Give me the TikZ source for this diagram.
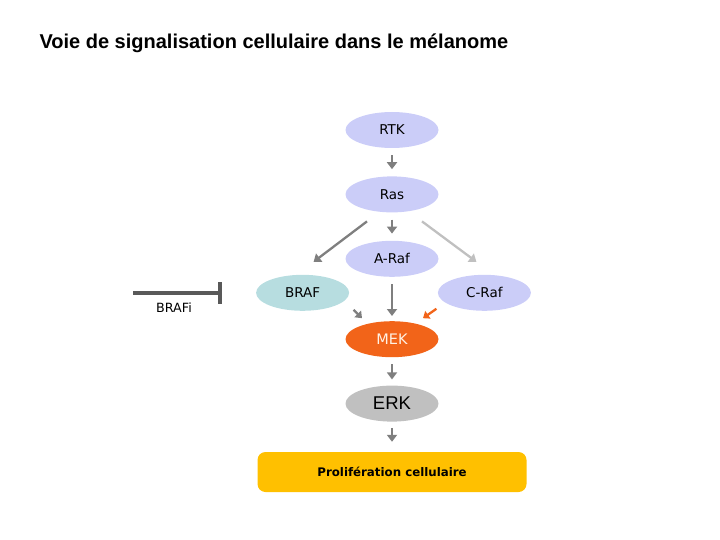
\documentclass[tikz,border=0pt]{standalone}
\usepackage{fontspec}
\setmainfont{DejaVu Sans}
\newfontfamily\arialfont{Liberation Sans}
\usepackage{xcolor}
\usetikzlibrary{shapes.geometric, arrows.meta, positioning}

\definecolor{lavender}{HTML}{CBCDF8}
\definecolor{brafteal}{HTML}{B7DDE0}
\definecolor{mekorange}{HTML}{F26419}
\definecolor{erkgray}{HTML}{C0C0C0}
\definecolor{prolifyellow}{HTML}{FFC000}
\definecolor{arrowgray}{HTML}{7F7F7F}

\begin{document}
\begin{tikzpicture}[
  x=1pt, y=-1pt,
  node distance=28pt,
  kinase/.style={ellipse, fill=lavender, inner sep=0pt, minimum width=93pt, minimum height=36pt, font=\fontsize{13.5}{16}\selectfont},
  arr/.style={draw=arrowgray, line width=2.3pt, -{Triangle[width=10pt, length=7pt]}},
  shortarr/.style={draw=arrowgray, line width=2.3pt, -{Triangle[width=9pt, length=6pt]}}
]
  \useasboundingbox (0,0) rectangle (720,540);

  \node[anchor=west, font=\arialfont\bfseries\fontsize{20}{24}\selectfont] (title) at (36,43) {Voie de signalisation cellulaire dans le mélanome};

  \node[kinase] (rtk) at (392,130) {RTK};
  \node[kinase, below=of rtk] (ras) {Ras};
  \node[kinase, below=of ras] (araf) {A-Raf};
  \node[kinase, fill=brafteal, left=-4pt of araf, yshift=-34pt] (braf) {BRAF};
  \node[kinase, right=-1pt of araf, yshift=-34pt] (craf) {C-Raf};
  \node[kinase, fill=mekorange, text=orange!10, font=\fontsize{14.5}{17}\selectfont, below=44pt of araf] (mek) {MEK};
  \node[kinase, fill=erkgray, font=\arialfont\fontsize{18.5}{22}\selectfont, below=of mek] (erk) {ERK};
  \node[draw=none, fill=prolifyellow, rounded corners=8pt, minimum width=269pt, minimum height=40pt, font=\bfseries\fontsize{11.8}{14}\selectfont, below=30pt of erk] (prolif) {Prolifération cellulaire};

  \node[font=\fontsize{12.7}{15}\selectfont] (brafi) at (174,308) {BRAFi};
  \coordinate (inhstart) at (133,293);
  \coordinate (inhend) at (222,293);

  \draw[arr, shorten <=7pt, shorten >=7pt] (rtk) -- (ras);
  \draw[arr, shorten <=7pt, shorten >=7pt] (ras) -- (araf);
  \draw[arr] ([shift={(-25,27)}]ras.center) -- ([shift={(11,-31)}]braf.center);
  \draw[arr, draw=erkgray] ([shift={(30,27)}]ras.center) -- ([shift={(-8,-31)}]craf.center);
  \draw[arr, shorten <=7pt, shorten >=5pt] (araf) -- (mek);
  \draw[shortarr] ([shift={(51,17)}]braf.center) -- ([shift={(-30,-21)}]mek.center);
  \draw[shortarr, draw=mekorange] ([shift={(-48,16)}]craf.center) -- ([shift={(31,-21)}]mek.center);
  \draw[arr, shorten <=7pt, shorten >=6pt] (mek) -- (erk);
  \draw[arr, shorten <=6pt, shorten >=10pt] (erk) -- (prolif);

  \draw[draw=black!65, line width=4pt, -{Bar[width=22pt]}] (inhstart) -- (inhend);
\end{tikzpicture}
\end{document}
